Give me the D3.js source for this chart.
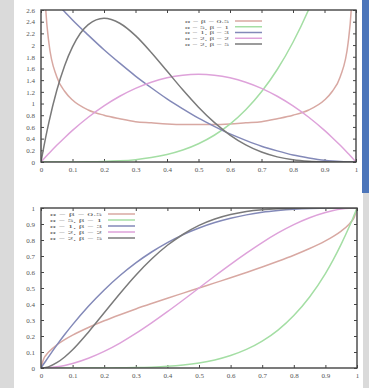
<!DOCTYPE html>
<html>
<head>
<meta charset="utf-8">
<script src="https://cdn.jsdelivr.net/npm/d3@7"></script>
<style>
  body { margin: 0; background: #fff; }
  svg { display: block; }
  .tick text { font-family: "Liberation Serif", "DejaVu Serif", serif; font-size: 7px; fill: #555; }
  .tick line { stroke: #444; }
  .legend text { font-family: "Liberation Serif", "DejaVu Serif", serif; font-size: 5px; fill: #555; }
</style>
</head>
<body>
<svg id="page"></svg>
<script>
// sample positions along x (denser near the edges where the U-shaped curve climbs)
const xs = [0, 0.01, 0.015, 0.025, 0.05, 0.075, 0.1, 0.15, 0.2, 0.25, 0.3, 0.35, 0.4, 0.45, 0.5,
            0.55, 0.6, 0.65, 0.7, 0.75, 0.8, 0.85, 0.9, 0.925, 0.95, 0.975, 0.985, 0.99, 1];

const legendLabels = ['α = β = 0.5', 'α = 5, β = 1', 'α = 1, β = 3', 'α = 2, β = 2', 'α = 2, β = 5'];
const lineColors = ['#d8a8a2', '#a4dea4', '#8389b8', '#dea2da', '#7a7a7a'];

// density curves (top chart)
const pdfA = [null, 3.20, 2.62, 2.04, 1.46, 1.21, 1.06, 0.89, 0.80, 0.74, 0.69, 0.67, 0.65, 0.64, 0.64,
              0.64, 0.65, 0.67, 0.69, 0.74, 0.80, 0.89, 1.06, 1.21, 1.46, 2.04, 2.62, 3.20, null];
const pdfB = [0, 0, 0, 0, 0.0001, 0.0002, 0.0005, 0.0025, 0.008, 0.0195, 0.0405, 0.075, 0.128, 0.205, 0.3125,
              0.4575, 0.648, 0.8925, 1.2005, 1.582, 2.048, 2.61, 3.28, 3.66, 4.07, 4.52, 4.71, 4.80, 5];
const pdfC = [3, 2.94, 2.91, 2.85, 2.71, 2.57, 2.43, 2.17, 1.92, 1.69, 1.47, 1.27, 1.08, 0.91, 0.75,
              0.61, 0.48, 0.37, 0.27, 0.19, 0.12, 0.07, 0.03, 0.017, 0.0075, 0.002, 0.0007, 0.0003, 0];
const pdfD = [0, 0.059, 0.089, 0.146, 0.285, 0.416, 0.54, 0.765, 0.96, 1.125, 1.26, 1.365, 1.44, 1.485, 1.5,
              1.485, 1.44, 1.365, 1.26, 1.125, 0.96, 0.765, 0.54, 0.416, 0.285, 0.146, 0.089, 0.059, 0];
const pdfE = [0, 0.288, 0.424, 0.678, 1.222, 1.647, 1.968, 2.349, 2.458, 2.373, 2.161, 1.874, 1.555, 1.235, 0.938,
              0.677, 0.461, 0.293, 0.170, 0.088, 0.038, 0.013, 0.003, 0.001, 0.0002, 0, 0, 0, 0];

// cumulative curves (bottom chart)
const cdfA = [0, 0.064, 0.078, 0.101, 0.144, 0.177, 0.205, 0.253, 0.295, 0.333, 0.369, 0.403, 0.436, 0.468, 0.5,
              0.532, 0.564, 0.597, 0.631, 0.667, 0.705, 0.747, 0.795, 0.823, 0.856, 0.899, 0.922, 0.936, 1];
const cdfB = [0, 0, 0, 0, 0, 0, 0, 0.0001, 0.0003, 0.001, 0.0024, 0.0053, 0.0102, 0.0185, 0.0313,
              0.0503, 0.0778, 0.116, 0.168, 0.237, 0.328, 0.444, 0.590, 0.677, 0.774, 0.881, 0.927, 0.951, 1];
const cdfC = [0, 0.030, 0.044, 0.073, 0.143, 0.209, 0.271, 0.386, 0.488, 0.578, 0.657, 0.725, 0.784, 0.834, 0.875,
              0.909, 0.936, 0.957, 0.973, 0.984, 0.992, 0.997, 0.999, 1, 1, 1, 1, 1, 1];
const cdfD = [0, 0.0003, 0.0007, 0.0018, 0.0073, 0.016, 0.028, 0.061, 0.104, 0.156, 0.216, 0.282, 0.352, 0.425, 0.5,
              0.575, 0.648, 0.718, 0.784, 0.844, 0.896, 0.939, 0.972, 0.984, 0.993, 0.998, 0.999, 1, 1];
const cdfE = [0, 0.0015, 0.0032, 0.0088, 0.033, 0.069, 0.114, 0.224, 0.345, 0.466, 0.580, 0.681, 0.767, 0.836, 0.891,
              0.931, 0.959, 0.978, 0.989, 0.995, 0.998, 1, 1, 1, 1, 1, 1, 1, 1];

const xTicks = [0, 0.1, 0.2, 0.3, 0.4, 0.5, 0.6, 0.7, 0.8, 0.9, 1];
const yTicksPdf = [0, 0.2, 0.4, 0.6, 0.8, 1, 1.2, 1.4, 1.6, 1.8, 2, 2.2, 2.4, 2.6];
const yTicksCdf = [0, 0.1, 0.2, 0.3, 0.4, 0.5, 0.6, 0.7, 0.8, 0.9, 1];

class BetaChart {
  constructor(_config, _series) {
    this.config = {
      parent: _config.parent,
      id: _config.id,
      left: _config.left,
      top: _config.top,
      width: _config.width,
      height: _config.height,
      yMax: _config.yMax,
      yTicks: _config.yTicks,
      legendX: _config.legendX,
      legendY: _config.legendY,
      legendStep: _config.legendStep,
      legendTextWidth: _config.legendTextWidth
    };
    this.series = _series;
    this.initVis();
  }

  initVis() {
    let vis = this;
    const c = vis.config;

    vis.chart = c.parent.append('g')
        .attr('transform', `translate(${c.left},${c.top})`);

    vis.xScale = d3.scaleLinear().domain([0, 1]).range([0, c.width]);
    vis.yScale = d3.scaleLinear().domain([0, c.yMax]).range([c.height, 0]);

    const fmt = d3.format('~g');

    // gnuplot style: ticks point inward on all four sides, labels left and bottom only
    vis.chart.append('g')
        .attr('class', 'axis x-axis')
        .attr('transform', `translate(0,${c.height})`)
        .call(d3.axisBottom(vis.xScale).tickValues(xTicks).tickFormat(fmt).tickSize(-3).tickPadding(5));
    vis.chart.append('g')
        .attr('class', 'axis x-axis-top')
        .call(d3.axisTop(vis.xScale).tickValues(xTicks).tickFormat('').tickSize(-3));
    vis.chart.append('g')
        .attr('class', 'axis y-axis')
        .call(d3.axisLeft(vis.yScale).tickValues(c.yTicks).tickFormat(fmt).tickSize(-3).tickPadding(6));
    vis.chart.append('g')
        .attr('class', 'axis y-axis-right')
        .attr('transform', `translate(${c.width},0)`)
        .call(d3.axisRight(vis.yScale).tickValues(c.yTicks).tickFormat('').tickSize(-3));
    vis.chart.selectAll('.domain').remove();

    vis.chart.append('clipPath')
        .attr('id', c.id)
      .append('rect')
        .attr('width', c.width)
        .attr('height', c.height);

    vis.line = d3.line()
        .defined(d => d.y !== null)
        .x(d => vis.xScale(d.x))
        .y(d => vis.yScale(d.y))
        .curve(d3.curveMonotoneX);

    vis.renderVis();
  }

  renderVis() {
    let vis = this;
    const c = vis.config;

    vis.chart.append('g')
        .attr('clip-path', `url(#${c.id})`)
      .selectAll('.curve')
      .data(vis.series)
      .join('path')
        .attr('class', 'curve')
        .attr('fill', 'none')
        .attr('stroke', (d, i) => lineColors[i])
        .attr('stroke-width', 1.5)
        .attr('d', d => vis.line(xs.map((x, j) => ({x: x, y: d[j]}))));

    vis.chart.append('rect')
        .attr('width', c.width)
        .attr('height', c.height)
        .attr('fill', 'none')
        .attr('stroke', '#444')
        .attr('stroke-width', 1.4);

    // legend sits inside the frame: label then a short sample of the line
    const legend = vis.chart.append('g')
        .attr('class', 'legend')
        .attr('transform', `translate(${c.legendX},${c.legendY})`);
    const rows = legend.selectAll('g')
      .data(legendLabels)
      .join('g')
        .attr('transform', (d, i) => `translate(0,${i * c.legendStep})`);
    rows.append('text')
        .attr('x', -6)
        .attr('dy', '0.35em')
        .attr('text-anchor', 'end')
        .attr('textLength', c.legendTextWidth)
        .attr('lengthAdjust', 'spacingAndGlyphs')
        .text(d => d);
    rows.append('line')
        .attr('x1', 0)
        .attr('x2', 27)
        .attr('stroke', (d, i) => lineColors[i])
        .attr('stroke-width', 1.5);
  }
}

const svg = d3.select('#page')
    .attr('width', 369)
    .attr('height', 388);

// surrounding page bits: grey margin left, blue slide edge right
svg.append('rect').attr('x', 0).attr('y', 0).attr('width', 14).attr('height', 388).attr('fill', '#dadada');
svg.append('rect').attr('x', 363).attr('y', 193).attr('width', 6).attr('height', 195).attr('fill', '#dadada');
svg.append('rect').attr('x', 362).attr('y', 0).attr('width', 7).attr('height', 193).attr('fill', '#4c75ba');

new BetaChart({
  parent: svg, id: 'clip-pdf',
  left: 41, top: 10, width: 315, height: 152,
  yMax: 2.6, yTicks: yTicksPdf,
  legendX: 194, legendY: 11, legendStep: 5.75, legendTextWidth: 44
}, [pdfA, pdfB, pdfC, pdfD, pdfE]);

new BetaChart({
  parent: svg, id: 'clip-cdf',
  left: 41, top: 208, width: 316, height: 160,
  yMax: 1, yTicks: yTicksCdf,
  legendX: 67, legendY: 6, legendStep: 6, legendTextWidth: 52
}, [cdfA, cdfB, cdfC, cdfD, cdfE]);
</script>
</body>
</html>
